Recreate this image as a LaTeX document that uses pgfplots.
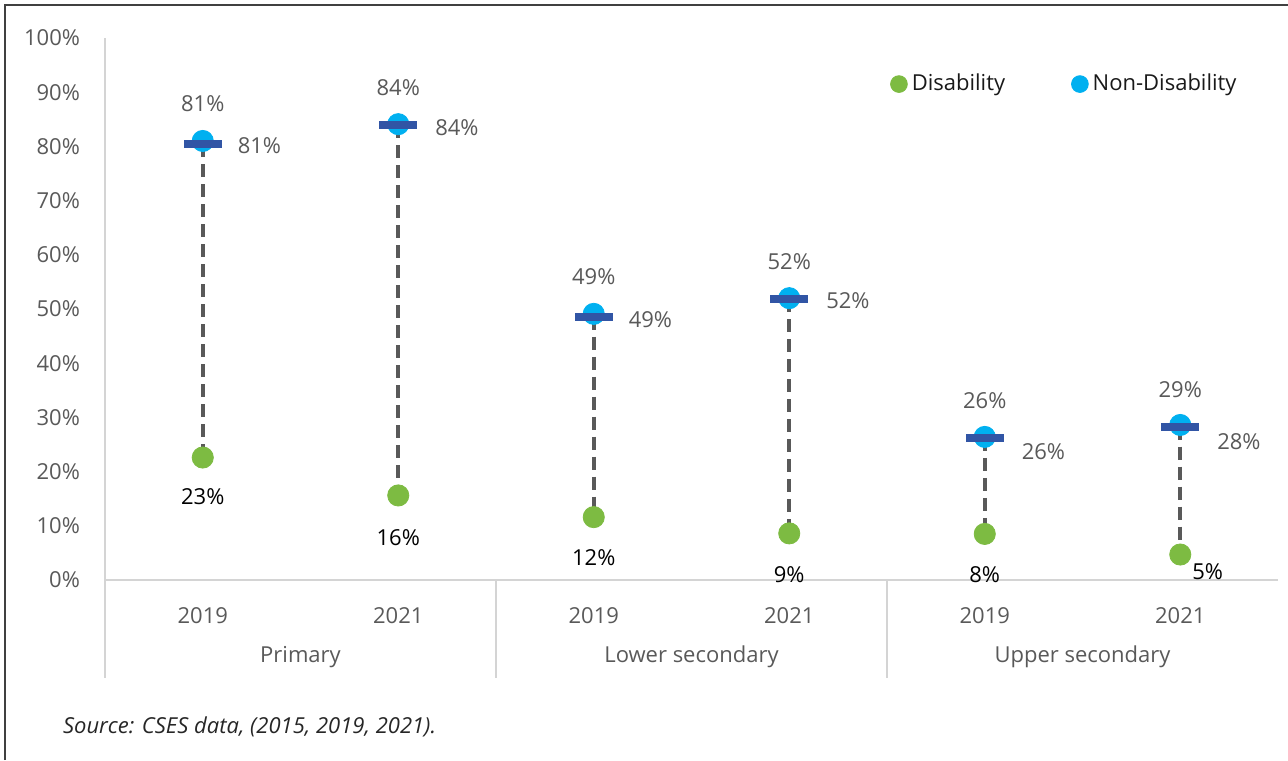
\documentclass[border=0pt]{standalone}
\usepackage{pgfplots}
\pgfplotsset{compat=1.18}
\usepackage{fontspec}
\setmainfont{Open Sans}

\definecolor{dgreen}{HTML}{7DBB42}
\definecolor{lblue}{HTML}{00B0F0}
\definecolor{dblue}{HTML}{3155A5}
\definecolor{dgrey}{HTML}{595959}
\definecolor{tgrey}{HTML}{595959}
\definecolor{axgrey}{HTML}{D4D4D4}

\pgfdeclareplotmark{hbar}{%
  \pgfpathrectangle{\pgfqpoint{-9.5pt}{-2pt}}{\pgfqpoint{19pt}{4pt}}%
  \pgfusepathqfill}

% x = category (1..6), dis = disability, non = non-disability, dash = marker
\pgfplotstableread{
x dis  non  dash
1 22.6 81.0 80.4
2 15.6 84.1 83.9
3 11.6 49.1 48.6
4 8.6  52.0 51.8
5 8.5  26.4 26.2
6 4.7  28.6 28.3
}\mydata

% label positions
\pgfplotstableread{
x    y    lab
1    87.8 81\%
2    90.8 84\%
3    55.9 49\%
4    58.7 52\%
5    33.0 26\%
6    35.2 29\%
}\nonlabels
\pgfplotstableread{
x    y    lab
1.29 80.1 81\%
2.30 83.4 84\%
3.29 48.0 49\%
4.30 51.5 52\%
5.30 23.6 26\%
6.30 25.6 28\%
}\dashlabels
\pgfplotstableread{
x    y    lab
1    15.3 23\%
2    7.9  16\%
3    4.2  12\%
4    0.9  9\%
5    0.9  8\%
6.14 1.5  5\%
}\dislabels

\begin{document}
\begin{tikzpicture}
\useasboundingbox (0,0) rectangle (644pt,380pt);
\draw[line width=0.7pt, color=black!75] (2.5pt,0) -- (2.5pt,377.5pt) -- (644pt,377.5pt);

\begin{axis}[
  at={(52.5pt,90pt)}, anchor=south west,
  scale only axis, width=586.5pt, height=271pt,
  xmin=0.5, xmax=6.5, ymin=0, ymax=100,
  clip=false,
  axis x line*=bottom, axis y line*=left,
  x axis line style={color=axgrey, line width=1pt},
  y axis line style={color=axgrey, line width=0.8pt},
  major tick length=0pt,
  xtick={1,...,6},
  xticklabels={2019,2021,2019,2021,2019,2021},
  ytick={0,10,...,100},
  yticklabel={\pgfmathprintnumber{\tick}\%},
  /pgf/number format/assume math mode=true,
  tick label style={font=\fontsize{11}{13}\selectfont, text=tgrey},
  xticklabel style={anchor=base, yshift=-21.5pt},
  yticklabel style={xshift=-9pt},
  legend style={at={(axis description cs:0.669,0.915)}, anchor=west,
    draw=none, fill=none, inner sep=0pt,
    font=\fontsize{11}{13}\selectfont, text=black!90,
    legend columns=2,
    /tikz/every even column/.append style={column sep=31pt}},
  legend image code/.code={\fill (0pt,0pt) circle (4.2pt);},
  nodes near coords align=center,
  every node near coord/.append style={font=\fontsize{11}{13}\selectfont, inner sep=0pt},
]

% dashed connectors
\addplot[forget plot, color=dgrey, line width=1.8pt, dash pattern=on 6.5pt off 3.5pt,
  unbounded coords=jump] coordinates {
  (1,80.4) (1,22.6) (1,nan)
  (2,83.9) (2,15.6) (2,nan)
  (3,48.6) (3,11.6) (3,nan)
  (4,51.8) (4,8.6)  (4,nan)
  (5,26.2) (5,8.5)  (5,nan)
  (6,28.3) (6,4.7)
};

\addplot[only marks, color=dgreen, mark=*, mark size=5.3pt,
  mark options={draw=none, fill=dgreen}] table[x=x, y=dis] {\mydata};
\addlegendentry{Disability}

\addplot[only marks, color=lblue, mark=*, mark size=5.3pt,
  mark options={draw=none, fill=lblue}] table[x=x, y=non] {\mydata};
\addlegendentry{Non-Disability}

\addplot[forget plot, only marks, color=dblue, mark=hbar] table[x=x, y=dash] {\mydata};

% data labels
\addplot[forget plot, only marks, mark=none, nodes near coords, point meta=explicit symbolic,
  every node near coord/.append style={text=tgrey}]
  table[x=x, y=y, meta=lab] {\nonlabels};
\addplot[forget plot, only marks, mark=none, nodes near coords, point meta=explicit symbolic,
  every node near coord/.append style={text=tgrey}]
  table[x=x, y=y, meta=lab] {\dashlabels};
\addplot[forget plot, only marks, mark=none, nodes near coords, point meta=explicit symbolic,
  every node near coord/.append style={text=black}]
  table[x=x, y=y, meta=lab] {\dislabels};

% group separators and labels
\pgfplotsinvokeforeach{0.5,2.5,4.5}{
  \draw[color=axgrey, line width=0.8pt] (axis cs:#1,0) -- ++(0pt,-49pt);
}
\path (axis cs:1.5,0) node[anchor=base, yshift=-41pt, text=tgrey, font=\fontsize{11}{13}\selectfont] {Primary};
\path (axis cs:3.5,0) node[anchor=base, yshift=-41pt, text=tgrey, font=\fontsize{11}{13}\selectfont] {Lower secondary};
\path (axis cs:5.5,0) node[anchor=base, yshift=-41pt, text=tgrey, font=\fontsize{11}{13}\selectfont] {Upper secondary};
\end{axis}

\node[anchor=west, font=\itshape\fontsize{11}{13}\selectfont, text=black!85] at (28pt,16.5pt)
  {Source: CSES data, (2015, 2019, 2021).};
\end{tikzpicture}
\end{document}
